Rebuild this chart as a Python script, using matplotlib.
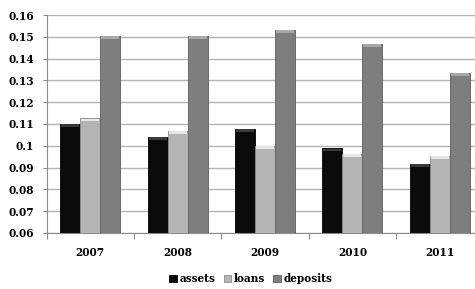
import numpy as np
import matplotlib.pyplot as plt
from matplotlib.patches import Patch

# ============== DATA ==============
years = ['2007', '2008', '2009', '2010', '2011']
assets = [0.110, 0.104, 0.1077, 0.0989, 0.0918]
loans = [0.1127, 0.1068, 0.0999, 0.0962, 0.0955]
deposits = [0.1504, 0.1504, 0.1531, 0.1467, 0.1335]
series_names = ['assets', 'loans', 'deposits']
yticks = [0.06, 0.07, 0.08, 0.09, 0.1, 0.11, 0.12, 0.13, 0.14, 0.15, 0.16]
# ==================================

plt.rcParams['font.family'] = ['DejaVu Serif']
plt.rcParams['font.weight'] = 'bold'

fig = plt.figure(figsize=(4.75, 2.89), dpi=100)
ax = fig.add_axes([0.098, 0.194, 0.92, 0.754])

colors = ['#0b0b0b', '#b4b4b4', '#7e7e7e']
edges = ['#000000', '#8c8c8c', '#5e5e5e']
tops = ['#3a3a3a', '#e6e6e6', '#a8a8a8']  # lighter bevel at the top of each bar
x = np.arange(len(years))
w = 0.2286
for i, (vals, c, ec, tc) in enumerate(zip([assets, loans, deposits], colors, edges, tops)):
    vals = np.array(vals)
    ax.bar(x + (i - 1) * w, vals - 0.06, width=w, bottom=0.06,
           color=c, edgecolor=ec, linewidth=0.6, zorder=3)
    ax.bar(x + (i - 1) * w, 0.0012, width=w * 0.9, bottom=vals - 0.0014,
           color=tc, linewidth=0, zorder=4)

ax.set_xlim(-0.5, len(years) - 0.5)
ax.set_ylim(0.06, 0.16)
ax.set_yticks(yticks)
ax.set_yticklabels([f'{v:g}' for v in yticks])
ax.set_xticks(x)
ax.set_xticklabels(years)
ax.set_xticks(np.arange(-0.5, len(years)), minor=True)
ax.tick_params(axis='x', which='major', length=0, pad=10, labelsize=7.6)
ax.tick_params(axis='x', which='minor', length=4, color='#8c8c8c', width=0.8)
ax.tick_params(axis='y', length=3, color='#8c8c8c', width=0.8, pad=6, labelsize=7.6)

ax.grid(axis='y', color='#b3b3b3', linewidth=1.0, zorder=0)
for s in ['top', 'right']:
    ax.spines[s].set_visible(False)
for s in ['left', 'bottom']:
    ax.spines[s].set_color('#8c8c8c')
    ax.spines[s].set_linewidth(0.8)

handles = [Patch(facecolor=c, edgecolor=ec, linewidth=0.6) for c, ec in zip(colors, edges)]
fig.legend(handles, series_names, loc='center', bbox_to_anchor=(0.528, 0.036), ncol=3,
           frameon=False, handlelength=0.7, handleheight=0.7, handletextpad=0.25,
           columnspacing=0.8, prop={'size': 7.6, 'weight': 'bold'})

fig.savefig('out.png', dpi=100)
